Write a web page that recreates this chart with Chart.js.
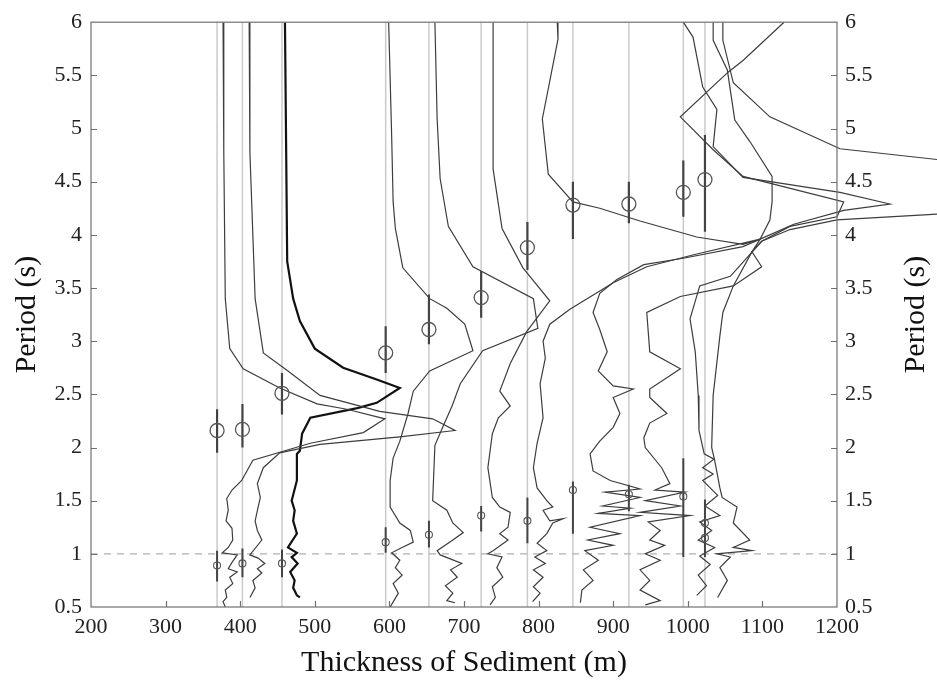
<!DOCTYPE html>
<html>
<head>
<meta charset="utf-8">
<script src="https://cdn.jsdelivr.net/npm/chart.js@4.4.1/dist/chart.umd.min.js"></script>
<style>
  html, body { margin: 0; padding: 0; background: #fff; }
  #wrap { width: 937px; height: 681px; }
</style>
</head>
<body>
<div id="wrap"><canvas id="chart" width="937" height="681"></canvas></div>
<script>
// station positions (thickness, m) and picked peak periods (s)
const stations = [369, 403, 456, 595, 653, 723, 785, 846, 921, 994, 1023];
const peakMain = [2.16, 2.17, 2.51, 2.89, 3.11, 3.41, 3.88, 4.28, 4.29, 4.40, 4.52];
const peakMainLo = [1.95, 2.00, 2.31, 2.70, 2.97, 3.22, 3.67, 3.96, 4.11, 4.17, 4.03];
const peakMainHi = [2.36, 2.41, 2.70, 3.14, 3.44, 3.66, 4.12, 4.50, 4.50, 4.70, 4.94];
const peakSecond = [0.89, 0.91, 0.91, 1.11, 1.18, 1.36, 1.31, 1.60, 1.56, 1.54, 1.29];
const peakSecondLo = [0.74, 0.78, 0.78, 1.01, 1.06, 1.21, 1.10, 1.19, 1.40, 0.97, 0.97];
const peakSecondHi = [1.03, 1.05, 1.04, 1.25, 1.31, 1.45, 1.53, 1.68, 1.65, 1.90, 1.51];
const extraStation = [1023];
const extraPeak = [1.15];

const xTicks = [200, 300, 400, 500, 600, 700, 800, 900, 1000, 1100, 1200];
const yTicks = [0.5, 1, 1.5, 2, 2.5, 3, 3.5, 4, 4.5, 5, 5.5, 6];

// H/V curves, [thickness offset position, period]
const curve369 = [[377,6],[378,4.78],[380,3.40],[386,2.93],[404,2.74],[453,2.56],[503,2.41],[543,2.36],[594,2.27],[565,2.14],[494,2.04],[417,1.88],[402,1.69],[389,1.60],[382,1.52],[384,1.41],[381,1.31],[389,1.24],[390,1.13],[384,1.06],[376,1.01],[396,0.99],[389,0.92],[384,0.86],[396,0.83],[386,0.78],[390,0.72],[380,0.66],[382,0.59],[377,0.55],[380,0.50]];
const curve403 = [[412,6],[413,4.78],[420,3.40],[431,2.89],[464,2.72],[507,2.49],[587,2.34],[658,2.27],[688,2.16],[614,2.10],[507,2.03],[453,1.95],[431,1.81],[423,1.66],[427,1.53],[424,1.44],[420,1.31],[423,1.22],[429,1.13],[413,0.99],[424,0.96],[433,0.91],[423,0.86],[429,0.82],[417,0.75],[420,0.68],[413,0.59]];
const curve456 = [[460,6],[463,3.75],[471,3.40],[480,3.19],[500,2.93],[538,2.75],[583,2.64],[614,2.56],[583,2.42],[557,2.37],[494,2.28],[483,2.13],[480,1.97],[476,1.94],[476,1.69],[469,1.50],[473,1.41],[471,1.31],[476,1.19],[464,1.06],[476,1.01],[469,0.97],[477,0.91],[467,0.83],[473,0.75],[471,0.68],[476,0.61],[480,0.59]];
const curve595 = [[599,6],[603,4.94],[605,4.31],[608,4.06],[618,3.69],[654,3.40],[677,3.31],[701,3.16],[712,2.91],[654,2.72],[632,2.53],[625,2.32],[614,2.06],[605,1.90],[601,1.69],[601,1.44],[614,1.29],[628,1.22],[632,1.11],[617,1.06],[603,1.01],[614,0.94],[608,0.87],[617,0.80],[605,0.72],[612,0.63],[601,0.50]];
const curve653 = [[661,6],[664,5.09],[668,4.53],[679,4.08],[712,3.70],[793,3.40],[799,3.12],[725,2.91],[695,2.60],[684,2.39],[672,2.20],[661,2.02],[658,1.50],[677,1.41],[685,1.29],[699,1.20],[685,1.13],[664,1.03],[668,0.99],[697,0.91],[682,0.85],[691,0.78],[675,0.70],[685,0.63],[677,0.56],[688,0.54]];
const curve723 = [[739,6],[739,4.62],[751,4.06],[779,3.69],[815,3.38],[784,3.09],[762,2.79],[748,2.53],[762,2.39],[746,2.28],[738,2.13],[732,1.81],[738,1.53],[748,1.44],[762,1.39],[759,1.25],[748,1.19],[759,1.13],[739,1.03],[732,1.00],[751,0.97],[744,0.87],[752,0.78],[738,0.69],[742,0.59],[735,0.52]];
const curve785 = [[825,6],[826,5.84],[805,5.09],[813,4.57],[846,4.31],[882,4.25],[936,4.13],[1012,3.98],[1074,3.91],[1097,3.96],[1012,3.82],[945,3.70],[900,3.55],[842,3.30],[815,3.16],[806,3.00],[809,2.84],[802,2.60],[806,2.28],[798,2.04],[793,1.81],[798,1.62],[811,1.50],[819,1.44],[806,1.41],[815,1.31],[833,1.33],[819,1.29],[811,1.19],[798,1.10],[811,1.03],[795,0.97],[809,0.91],[793,0.85],[806,0.78],[793,0.69],[802,0.63],[792,0.55]];
const curve846 = [[994,6],[1007,5.86],[1020,5.39],[1039,5.18],[1034,4.83],[1074,4.54],[1204,4.40],[1271,4.29],[1209,4.23],[1142,4.10],[1097,3.96],[1074,3.89],[994,3.78],[941,3.72],[905,3.58],[882,3.45],[873,3.27],[882,3.11],[892,2.90],[880,2.72],[900,2.58],[927,2.55],[900,2.47],[909,2.32],[900,2.19],[882,2.06],[869,1.94],[873,1.78],[896,1.69],[936,1.61],[889,1.58],[936,1.53],[886,1.45],[923,1.43],[880,1.38],[936,1.36],[869,1.25],[909,1.19],[866,1.13],[900,1.08],[862,1.03],[880,0.94],[860,0.85],[873,0.75],[858,0.66],[856,0.54]];
const curve921 = [[1034,6],[1034,5.83],[1053,5.55],[1063,5.08],[1083,4.88],[1113,4.55],[1113,4.31],[1110,4.14],[1097,3.96],[1086,3.84],[1099,3.70],[1061,3.52],[990,3.42],[945,3.27],[949,2.90],[990,2.74],[949,2.55],[949,2.47],[972,2.32],[949,2.23],[941,2.09],[943,2.00],[965,1.81],[976,1.66],[956,1.60],[996,1.58],[943,1.50],[990,1.45],[936,1.39],[1003,1.36],[947,1.30],[963,1.22],[949,1.13],[969,1.08],[943,1.00],[963,0.94],[936,0.85],[949,0.75],[936,0.66],[963,0.56],[943,0.52]];
const curve994 = [[1129,6],[1074,5.64],[1054,5.53],[990,5.11],[1034,4.80],[1074,4.55],[1209,4.31],[1200,4.17],[1137,4.08],[1099,3.94],[1086,3.84],[1061,3.52],[1047,3.27],[1043,3.05],[1034,2.49],[1032,2.00],[1036,1.88],[1043,1.62],[1046,1.53],[1066,1.44],[1061,1.29],[1083,1.13],[1061,1.06],[1086,1.03],[1039,1.00],[1057,0.97],[1043,0.87],[1053,0.75],[1040,0.59]];
const curve1023 = [[1047,6],[1047,5.83],[1061,5.43],[1110,5.11],[1204,4.81],[1345,4.70],[1345,4.20],[1200,4.14],[1137,4.05],[1099,3.94],[1057,3.61],[1016,3.52],[1003,3.21],[1010,2.90],[1014,2.49],[1015,2.16],[1022,1.94],[1035,1.89],[1020,1.81],[1034,1.75],[1020,1.69],[1040,1.55],[1023,1.45],[1043,1.36],[1016,1.30],[1032,1.22],[1014,1.13],[1036,1.06],[1016,0.98],[1030,0.90],[1014,0.80],[1025,0.70],[1012,0.61]];

const SERIF = '"Liberation Serif", "Times New Roman", serif';

function toPts(pairs) {
  return pairs.map(([x, y]) => ({ x, y }));
}

// vertical segments separated by gaps
function vSegments(xs, lo, hi) {
  const pts = [];
  xs.forEach((x, i) => {
    pts.push({ x, y: lo[i] }, { x, y: hi[i] }, { x, y: null });
  });
  return pts;
}

function curveDs(pairs, extra) {
  return Object.assign({
    data: toPts(pairs),
    showLine: true,
    pointRadius: 0,
    borderColor: '#3d3d3d',
    borderWidth: 1.2,
    tension: 0,
    spanGaps: false,
  }, extra || {});
}

/** frame box, inward ticks and the right-hand title */
const framePlugin = {
  id: 'frame',
  afterDatasetsDraw(chart) {
    const { ctx, chartArea: a, scales } = chart;
    ctx.save();
    ctx.strokeStyle = '#707070';
    ctx.lineWidth = 1.2;
    ctx.strokeRect(a.left, a.top, a.right - a.left, a.bottom - a.top);
    ctx.beginPath();
    yTicks.slice(1, -1).forEach((v) => {
      const py = Math.round(scales.y.getPixelForValue(v)) + 0.5;
      ctx.moveTo(a.left, py); ctx.lineTo(a.left + 6, py);
      ctx.moveTo(a.right, py); ctx.lineTo(a.right - 6, py);
    });
    xTicks.slice(1, -1).forEach((v) => {
      const px = Math.round(scales.x.getPixelForValue(v)) + 0.5;
      ctx.moveTo(px, a.bottom); ctx.lineTo(px, a.bottom - 6);
    });
    ctx.stroke();

    ctx.translate(916, (a.top + a.bottom) / 2);
    ctx.rotate(-Math.PI / 2);
    ctx.font = '30px ' + SERIF;
    ctx.fillStyle = '#111';
    ctx.textAlign = 'center';
    ctx.textBaseline = 'middle';
    ctx.fillText('Period (s)', 0, 0);
    ctx.restore();
  },
};

const stationLo = stations.map(() => 0.5);
const stationHi = stations.map(() => 6);

const datasets = [
  // circles and error bars on top
  {
    data: stations.map((x, i) => ({ x, y: peakMain[i] })),
    pointRadius: 7, pointBorderWidth: 1.3,
    pointBorderColor: '#555', pointBackgroundColor: 'rgba(255,255,255,0)',
  },
  {
    data: stations.map((x, i) => ({ x, y: peakSecond[i] }))
      .concat(extraStation.map((x, i) => ({ x, y: extraPeak[i] }))),
    pointRadius: 3.5, pointBorderWidth: 1.1,
    pointBorderColor: '#555', pointBackgroundColor: 'rgba(255,255,255,0)',
  },
  {
    data: vSegments(stations, peakMainLo, peakMainHi),
    showLine: true, pointRadius: 0, borderColor: '#444', borderWidth: 2.2, spanGaps: false,
  },
  {
    data: vSegments(stations, peakSecondLo, peakSecondHi),
    showLine: true, pointRadius: 0, borderColor: '#444', borderWidth: 2, spanGaps: false,
  },
  curveDs(curve369),
  curveDs(curve403),
  curveDs(curve456, { borderColor: '#111', borderWidth: 2.2 }),
  curveDs(curve595),
  curveDs(curve653),
  curveDs(curve723),
  curveDs(curve785),
  curveDs(curve846, { clip: false }),
  curveDs(curve921),
  curveDs(curve994, { clip: false }),
  curveDs(curve1023, { clip: false }),
  // 1 s reference line
  {
    data: [{ x: 200, y: 1 }, { x: 1200, y: 1 }],
    showLine: true, pointRadius: 0, borderColor: '#b0b0b0', borderWidth: 1.3, borderDash: [7, 6],
  },
  // station lines
  {
    data: vSegments(stations, stationLo, stationHi),
    showLine: true, pointRadius: 0, borderColor: '#cacaca', borderWidth: 1.5, spanGaps: false,
  },
];

new Chart(document.getElementById('chart'), {
  type: 'scatter',
  data: { datasets },
  options: {
    responsive: false,
    animation: false,
    events: [],
    layout: { padding: { top: 20, left: 0, right: 0, bottom: 0 } },
    plugins: { legend: { display: false }, tooltip: { enabled: false } },
    scales: {
      x: {
        type: 'linear', min: 200, max: 1200,
        afterFit: (s) => { s.height = 74; },
        grid: { display: false, drawTicks: false }, border: { display: false },
        afterBuildTicks: (s) => { s.ticks = xTicks.map((v) => ({ value: v })); },
        ticks: {
          color: '#222', padding: 7, maxRotation: 0,
          font: { family: SERIF, size: 22 },
          callback: (v) => String(v),
        },
        title: {
          display: true, text: 'Thickness of Sediment (m)', color: '#111',
          font: { family: SERIF, size: 30 }, padding: { top: 0, bottom: 0 },
        },
      },
      y: {
        type: 'linear', position: 'left', min: 0.5, max: 6,
        afterFit: (s) => { s.width = 91; },
        grid: { display: false, drawTicks: false }, border: { display: false },
        afterBuildTicks: (s) => { s.ticks = yTicks.map((v) => ({ value: v })); },
        ticks: {
          color: '#222', padding: 9,
          font: { family: SERIF, size: 22 },
          callback: (v) => String(v),
        },
        title: {
          display: true, text: 'Period (s)', color: '#111',
          font: { family: SERIF, size: 30 }, padding: { top: 9, bottom: 0 },
        },
      },
      y2: {
        type: 'linear', position: 'right', min: 0.5, max: 6,
        afterFit: (s) => { s.width = 100; },
        grid: { display: false, drawTicks: false }, border: { display: false },
        afterBuildTicks: (s) => { s.ticks = yTicks.map((v) => ({ value: v })); },
        ticks: {
          color: '#222', padding: 8,
          font: { family: SERIF, size: 22 },
          callback: (v) => String(v),
        },
      },
    },
  },
  plugins: [framePlugin],
});
</script>
</body>
</html>
